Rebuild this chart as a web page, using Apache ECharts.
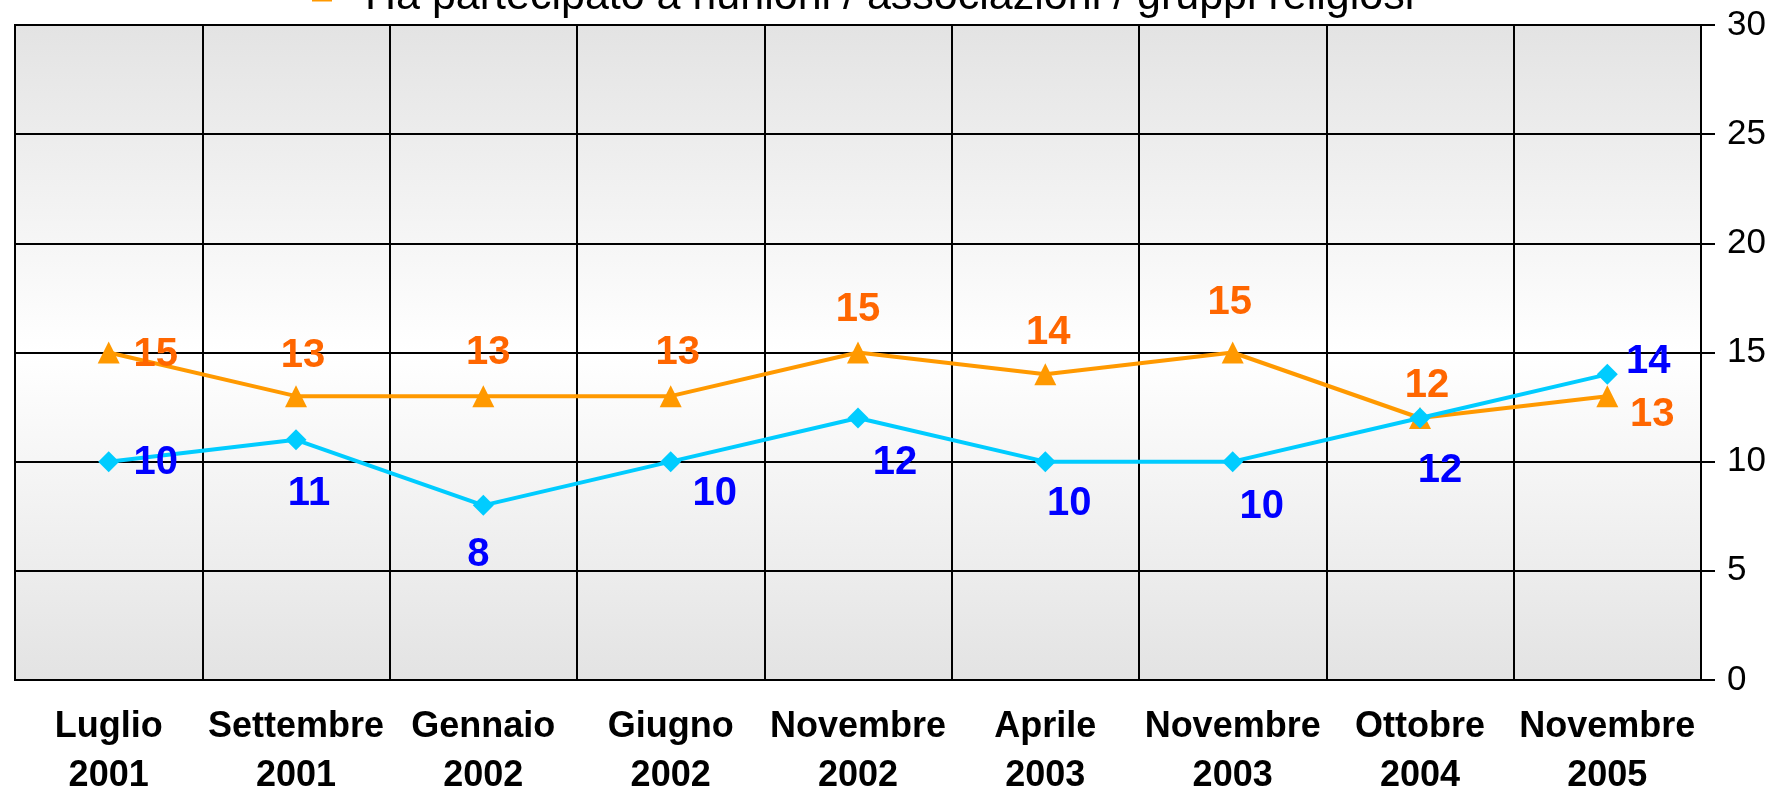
<!DOCTYPE html>
<html>
<head>
<meta charset="utf-8">
<script src="https://cdn.jsdelivr.net/npm/echarts@6/dist/echarts.min.js"></script>
<style>
  html, body { margin: 0; padding: 0; background: #fff; }
  #chart { width: 1775px; height: 790px; }
</style>
</head>
<body>
<div id="chart"></div>
<script>
// dati del grafico
const categories = [
  "Luglio\n2001", "Settembre\n2001", "Gennaio\n2002", "Giugno\n2002", "Novembre\n2002",
  "Aprile\n2003", "Novembre\n2003", "Ottobre\n2004", "Novembre\n2005"
];
const riunioniName = "Ha partecipato a riunioni / associazioni / gruppi religiosi";
const riunioniValues = [15, 13, 13, 13, 15, 14, 15, 12, 13];
const altroName = "Altro";
const altroValues = [10, 11, 8, 10, 12, 10, 10, 12, 14];
const yTicks = [0, 5, 10, 15, 20, 25, 30];

// spostamento delle etichette rispetto al punto (solo stile)
const riunioniLabelShift = [[47, 2], [7, -40], [5, -43], [7, -43], [0, -43], [3, -41], [-3, -50], [7, -32], [45, 19]];
const altroLabelShift = [[47, 1], [13, 54], [-5, 50], [44, 32], [37, 45], [24, 42], [29, 45], [20, 53], [41, -12]];

const font = "'Liberation Sans', Arial, sans-serif";

const withLabels = (values, shifts) =>
  values.map((v, i) => ({ value: v, label: { offset: shifts[i] } }));

var myChart = echarts.init(document.getElementById("chart"));

const option = {
  animation: false,
  legend: {
    data: [{ name: riunioniName, icon: "rect" }],
    left: 307,
    top: -29,
    itemWidth: 20,
    itemHeight: 8,
    textStyle: { fontFamily: font, fontSize: 43, color: "#000", padding: [0, 0, 0, 28] },
  },
  grid: {
    left: 15,
    right: 74,
    top: 25,
    bottom: 110,
    outerBoundsMode: "none",
    show: true,
    borderColor: "#000",
    borderWidth: 2,
    backgroundColor: new echarts.graphic.LinearGradient(0, 0, 0, 1, [
      { offset: 0, color: "#e3e3e3" },
      { offset: 0.5, color: "#ffffff" },
      { offset: 1, color: "#e3e3e3" },
    ]),
  },
  xAxis: [
    {
      type: "category",
      data: categories,
      boundaryGap: true,
      axisLine: { lineStyle: { color: "#000", width: 2 } },
      axisTick: { interval: 0, length: 12, lineStyle: { color: "#000", width: 2 } },
      axisLabel: {
        interval: 0,
        margin: 23,
        fontFamily: font,
        fontSize: 36,
        fontWeight: "bold",
        lineHeight: 49,
        color: "#000",
      },
      splitLine: { show: true, interval: 0, lineStyle: { color: "#000", width: 2 } },
    },
    {
      // tacche piccole al centro delle categorie
      type: "category",
      data: categories,
      position: "bottom",
      boundaryGap: true,
      axisLine: { show: false },
      axisTick: { interval: 0, alignWithLabel: true, length: 8, lineStyle: { color: "#000", width: 2 } },
      axisLabel: { show: false },
      splitLine: { show: false },
    },
  ],
  yAxis: {
    type: "value",
    position: "right",
    min: yTicks[0],
    max: yTicks[yTicks.length - 1],
    interval: 5,
    axisLine: { show: true, lineStyle: { color: "#000", width: 2 } },
    axisTick: { show: true, length: 14, lineStyle: { color: "#000", width: 2 } },
    axisLabel: { margin: 26, fontFamily: font, fontSize: 35, color: "#000" },
    splitLine: { lineStyle: { color: "#000", width: 2 } },
  },
  series: [
    {
      name: riunioniName,
      type: "line",
      data: withLabels(riunioniValues, riunioniLabelShift),
      symbol: "triangle",
      symbolSize: 22,
      color: "#ff9900",
      lineStyle: { width: 4, color: "#ff9900" },
      itemStyle: { color: "#ff9900" },
      label: {
        show: true,
        position: "inside",
        fontFamily: font,
        fontSize: 40,
        fontWeight: "bold",
        color: "#ff6600",
      },
    },
    {
      name: altroName,
      type: "line",
      data: withLabels(altroValues, altroLabelShift),
      symbol: "diamond",
      symbolSize: 21,
      color: "#00ccff",
      lineStyle: { width: 4, color: "#00ccff" },
      itemStyle: { color: "#00ccff" },
      label: {
        show: true,
        position: "inside",
        fontFamily: font,
        fontSize: 40,
        fontWeight: "bold",
        color: "#0000ff",
      },
    },
  ],
};

myChart.setOption(option);
</script>
</body>
</html>
